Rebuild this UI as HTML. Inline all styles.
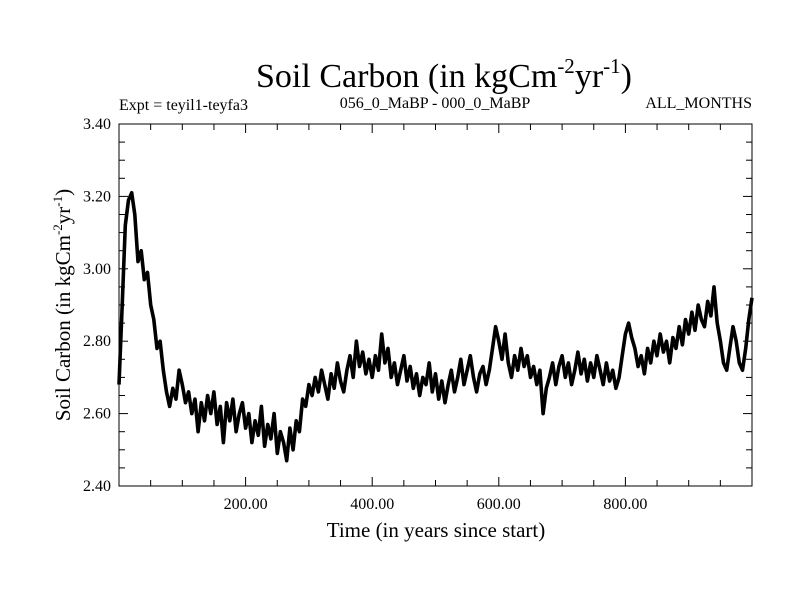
<!DOCTYPE html>
<html><head><meta charset="utf-8"><style>
body{margin:0;background:#fff}
svg{display:block;font-family:"Liberation Serif",serif}
</style></head><body>
<svg width="800" height="600">
<rect width="800" height="600" fill="#fff"/>
<text x="444" y="87" font-size="34" text-anchor="middle">Soil Carbon (in kgCm<tspan font-size="21" dy="-14">-2</tspan><tspan dy="14">yr</tspan><tspan font-size="21" dy="-14">-1</tspan><tspan dy="14">)</tspan></text>
<text x="119" y="110" font-size="16">Expt = teyil1-teyfa3</text>
<text x="435" y="108" font-size="16" text-anchor="middle">056_0_MaBP - 000_0_MaBP</text>
<text x="752" y="108" font-size="16" text-anchor="end">ALL_MONTHS</text>
<g id="axes"></g>
<path id="series" fill="none" stroke="#000" stroke-width="3.6" stroke-linejoin="round"/>
<rect x="119" y="124" width="633" height="362" fill="none" stroke="#000" stroke-width="1"/>
<text x="436" y="537" font-size="21" text-anchor="middle">Time (in years since start)</text>
<text transform="translate(70,305) rotate(-90)" font-size="21" text-anchor="middle">Soil Carbon (in kgCm<tspan font-size="13" dy="-8">-2</tspan><tspan dy="8">yr</tspan><tspan font-size="13" dy="-8">-1</tspan><tspan dy="8">)</tspan></text>
</svg>
<script>
const xTicks=[200,400,600,800];
const xTickLabels=["200.00","400.00","600.00","800.00"];
const yTicks=[2.4,2.6,2.8,3.0,3.2,3.4];
const yTickLabels=["2.40","2.60","2.80","3.00","3.20","3.40"];
const yearStep=5;
const soilCarbon=[2.68,2.90,3.12,3.19,3.21,3.15,3.02,3.05,2.97,2.99,2.90,2.86,2.78,2.80,2.72,2.66,2.62,2.67,2.64,2.72,2.68,
2.63,2.66,2.60,2.64,2.55,2.63,2.58,2.65,2.60,2.66,2.57,2.62,2.52,2.63,2.58,2.64,2.55,2.60,2.63,2.56,
2.60,2.52,2.58,2.54,2.62,2.51,2.57,2.53,2.60,2.49,2.55,2.52,2.47,2.56,2.50,2.58,2.55,2.64,2.62,2.68,
2.65,2.70,2.66,2.72,2.68,2.64,2.71,2.67,2.74,2.69,2.66,2.72,2.76,2.70,2.80,2.73,2.77,2.71,2.75,2.70,
2.76,2.72,2.82,2.74,2.78,2.70,2.74,2.68,2.72,2.76,2.69,2.73,2.67,2.71,2.65,2.70,2.68,2.74,2.66,2.71,
2.64,2.69,2.63,2.68,2.72,2.66,2.70,2.75,2.68,2.72,2.76,2.70,2.66,2.71,2.73,2.68,2.72,2.78,2.84,2.80,
2.75,2.82,2.74,2.70,2.76,2.72,2.78,2.73,2.76,2.70,2.73,2.68,2.72,2.60,2.67,2.70,2.74,2.68,2.73,2.76,
2.70,2.74,2.68,2.72,2.77,2.71,2.75,2.69,2.74,2.70,2.76,2.72,2.68,2.74,2.69,2.72,2.67,2.70,2.76,2.82,
2.85,2.81,2.78,2.73,2.76,2.71,2.78,2.74,2.80,2.76,2.82,2.77,2.80,2.74,2.81,2.78,2.84,2.79,2.86,2.82,
2.88,2.83,2.90,2.86,2.84,2.91,2.87,2.95,2.85,2.80,2.74,2.72,2.78,2.84,2.80,2.74,2.72,2.78,2.86,2.92];
const L=119,R=752,T=124,B=486,X0=0,X1=1000,Y0=2.4,Y1=3.4;
const sx=v=>L+(v-X0)/(X1-X0)*(R-L);
const sy=v=>B-(v-Y0)/(Y1-Y0)*(B-T);
const NS="http://www.w3.org/2000/svg";
const g=document.getElementById('axes');
function ln(x1,y1,x2,y2,name){const e=document.createElementNS(NS,'line');
e.setAttribute('x1',x1);e.setAttribute('y1',y1);e.setAttribute('x2',x2);e.setAttribute('y2',y2);
e.setAttribute('stroke','#000');e.setAttribute('stroke-width','1');


g.appendChild(e);}
function tx(x,y,s,anchor,name){const e=document.createElementNS(NS,'text');
e.setAttribute('x',x);e.setAttribute('y',y);e.setAttribute('font-size','16');e.setAttribute('text-anchor',anchor);e.textContent=s;


g.appendChild(e);}
for(let v=50;v<1000;v+=50){const major=v%200===0;const h=major?9:6;
ln(sx(v),B,sx(v),B-h,'x-tick');ln(sx(v),T,sx(v),T+h,'x-tick-top');}
for(let i=1;i<20;i++){const v=Y0+i*0.05;const major=i%4===0;const h=major?9:6;
ln(L,sy(v),L+h,sy(v),'y-tick');ln(R,sy(v),R-h,sy(v),'y-tick-right');}
xTicks.forEach((v,i)=>tx(sx(v),509,xTickLabels[i],'middle','x-tick-label'));
yTicks.forEach((v,i)=>tx(111,sy(v)+5,yTickLabels[i],'end','y-tick-label'));
let d='';soilCarbon.forEach((v,i)=>{d+=(i?'L':'M')+sx(i*yearStep).toFixed(1)+','+sy(v).toFixed(1);});
document.getElementById('series').setAttribute('d',d);
</script>
</body></html>
